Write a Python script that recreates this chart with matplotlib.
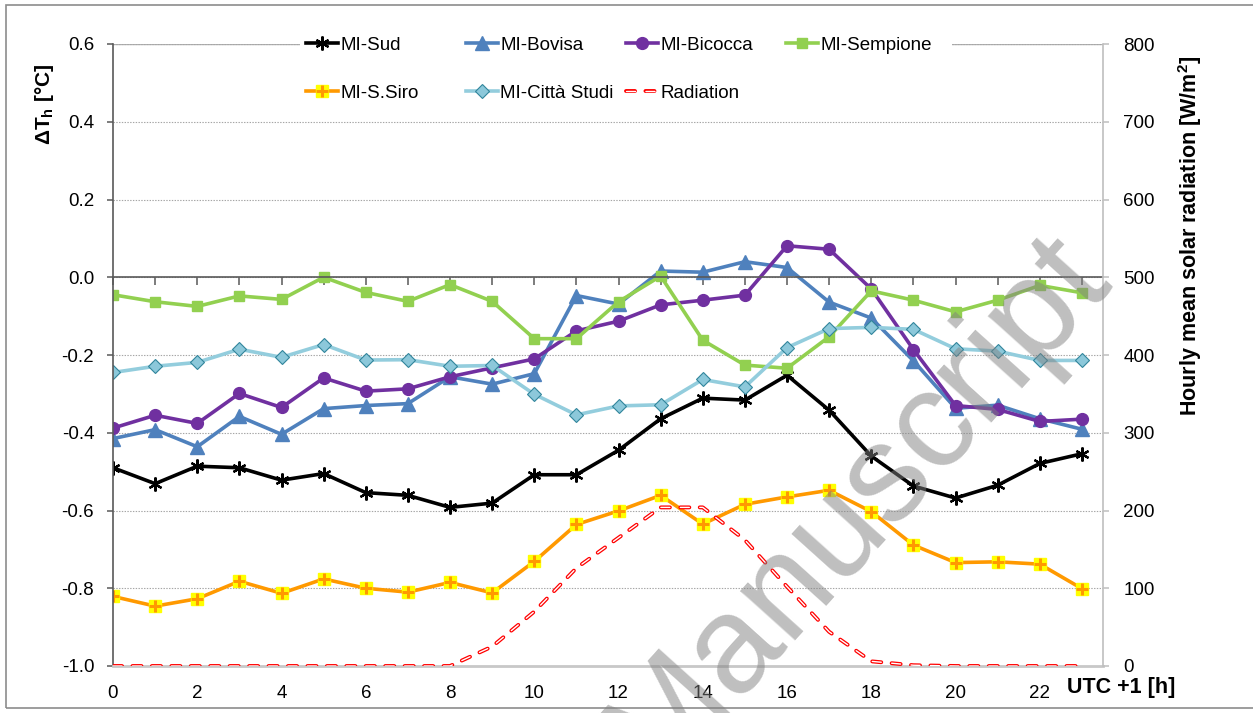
import numpy as np
import matplotlib.pyplot as plt
from matplotlib.patches import Rectangle

plt.rcParams['font.family'] = ['Liberation Sans', 'DejaVu Sans']
plt.rcParams['font.size'] = 13.5
plt.rcParams['lines.scale_dashes'] = False

# hourly data (UTC+1)
hours = list(range(24))
mi_sud = [-0.490, -0.531, -0.486, -0.490, -0.522, -0.505, -0.554, -0.561, -0.592, -0.581, -0.508, -0.508,
          -0.445, -0.364, -0.311, -0.316, -0.252, -0.342, -0.460, -0.537, -0.568, -0.535, -0.479, -0.454]
mi_bovisa = [-0.415, -0.392, -0.436, -0.358, -0.404, -0.338, -0.330, -0.325, -0.256, -0.275, -0.248, -0.047,
             -0.069, 0.016, 0.013, 0.040, 0.025, -0.064, -0.105, -0.215, -0.337, -0.329, -0.364, -0.391]
mi_bicocca = [-0.388, -0.355, -0.376, -0.299, -0.335, -0.259, -0.293, -0.287, -0.256, -0.233, -0.210, -0.138,
              -0.113, -0.071, -0.059, -0.046, 0.081, 0.072, -0.030, -0.186, -0.330, -0.340, -0.371, -0.365]
mi_sempione = [-0.045, -0.063, -0.075, -0.048, -0.057, 0.000, -0.039, -0.062, -0.019, -0.062, -0.158, -0.158,
               -0.063, 0.003, -0.162, -0.226, -0.234, -0.153, -0.035, -0.059, -0.089, -0.059, -0.021, -0.040]
mi_s_siro = [-0.821, -0.846, -0.827, -0.782, -0.813, -0.776, -0.800, -0.810, -0.785, -0.812, -0.731, -0.636,
             -0.601, -0.561, -0.635, -0.584, -0.565, -0.548, -0.603, -0.689, -0.734, -0.732, -0.738, -0.801]
mi_citta_studi = [-0.245, -0.229, -0.219, -0.185, -0.206, -0.173, -0.213, -0.212, -0.229, -0.227, -0.301, -0.354,
                  -0.331, -0.328, -0.263, -0.282, -0.181, -0.132, -0.129, -0.134, -0.184, -0.190, -0.214, -0.214]
radiation = [0, 0, 0, 0, 0, 0, 0, 0, 0, 25, 70, 126, 165, 204, 204, 162, 102, 44, 6, 1, 0, 0, 0, 0]

dt_ticks = np.round(np.linspace(-1.0, 0.6, 9), 1) + 0.0
rad_ticks = list(range(0, 801, 100))

W, H = 1253, 713
fig = plt.figure(figsize=(W / 100, H / 100), dpi=100)
ax = fig.add_axes([113 / W, 47 / H, 990 / W, 622 / H])

lw = 2.6
l_sud, = ax.plot(hours, mi_sud, color='black', lw=lw, marker=(6, 2, 0), ms=10, mew=1.6)
l_bov, = ax.plot(hours, mi_bovisa, color='#4F81BD', lw=lw, marker='^', ms=9.5)
l_bic, = ax.plot(hours, mi_bicocca, color='#7030A0', lw=lw, marker='o', ms=8.5)
l_sem, = ax.plot(hours, mi_sempione, color='#92D050', lw=lw, marker='s', ms=7.5)
l_sir, = ax.plot(hours, mi_s_siro, color='#FF9900', lw=lw, marker='s', ms=9, mfc='#FFFF00', mec='#FFFF00')
l_sir2, = ax.plot(hours, mi_s_siro, ls='none', marker='+', ms=9, mew=2.2, color='#FF9900')
l_cit, = ax.plot(hours, mi_citta_studi, color='#93CDDD', lw=lw, marker='D', ms=7.5,
                 mfc='#8CC8DA', mec='#31859C', mew=0.8)

ax.set_xlim(0, 23.5)
ax.set_ylim(-1.0, 0.6)
ax.set_yticks(dt_ticks)
ax.set_yticklabels(['%.1f' % v for v in dt_ticks])
ax.set_xticks(hours)
ax.set_xticklabels([str(h) if h % 2 == 0 else '' for h in hours])
ax.yaxis.grid(True, linestyle=(0, (1, 1)), color='#A6A6A6', lw=0.8)
ax.set_axisbelow(True)
ax.axhline(0.6, color='#B0B0B0', lw=1.0, zorder=0.5)

# x axis line sits at zero, labels stay at the bottom
ax.spines['top'].set_position(('data', 0))
ax.spines['top'].set_color('#595959')
ax.spines['top'].set_linewidth(1.2)
ax.spines['bottom'].set_color('#C8C8C8')
ax.spines['bottom'].set_linewidth(2)
ax.spines['left'].set_color('#595959')
ax.spines['left'].set_linewidth(1.2)
ax.spines['right'].set_visible(False)
ax.tick_params(axis='x', bottom=False, top=True, direction='in', length=6, width=1.1,
               color='#595959', labelbottom=True, labeltop=False, pad=14)
ax.tick_params(axis='y', direction='out', length=4.5, width=1.1, color='#595959', pad=9)

ax2 = ax.twinx()
ax2.set_position(ax.get_position())
red_out, = ax2.plot(hours, radiation, color='#FF0000', lw=2.8, ls=(0, (6.5, 7.5)), dash_capstyle='round')
red_in, = ax2.plot(hours, radiation, color='white', lw=1.0, ls=(0, (6.5, 7.5)), dash_capstyle='round')
ax2.set_ylim(0, 800)
ax2.set_yticks(rad_ticks)
for s in ['top', 'bottom', 'left']:
    ax2.spines[s].set_visible(False)
ax2.spines['right'].set_color('#BFBFBF')
ax2.spines['right'].set_linewidth(1.2)
ax2.tick_params(axis='y', direction='out', length=4.5, width=1.1, color='#BFBFBF', pad=10)

handles = [l_sud, (l_sir, l_sir2), l_bov, l_cit, l_bic, (red_out, red_in), l_sem]
labels = ['MI-Sud', 'MI-S.Siro', 'MI-Bovisa', 'MI-Città Studi', 'MI-Bicocca', 'Radiation', 'MI-Sempione']
leg = ax2.legend(handles, labels, ncol=4, loc='upper left', bbox_to_anchor=(300 / W, 1 - 31 / H),
                 bbox_transform=fig.transFigure, borderaxespad=0, frameon=True, facecolor='white',
                 edgecolor='none', framealpha=1, fancybox=False, handlelength=1.7, handletextpad=0.15,
                 columnspacing=0.64, labelspacing=1.66, borderpad=0.3, fontsize=13.5)
leg._legend_handle_box.mode = 'equal'  # equal width columns like excel

fig.text(45 / W, 1 - 104 / H, 'ΔT$_\\mathregular{h}$ [°C]', rotation=90, ha='center', va='center',
         fontweight='bold', fontsize=15)
fig.text(1190 / W, 1 - 236 / H, 'Hourly mean solar radiation [W/m$^\\mathregular{2}$]', rotation=90,
         ha='center', va='center', fontweight='bold', fontsize=15.5)
fig.text(1121 / W, 1 - 688 / H, 'UTC +1 [h]', ha='center', va='center', fontweight='bold', fontsize=15.5)

# watermark
fig.text(858 / W, 1 - 505 / H, 'Manuscript', rotation=48, fontsize=100, color='#808080', alpha=0.5,
         ha='center', va='center', rotation_mode='anchor', zorder=10)

fig.patches.append(Rectangle((6 / W, 5 / H), 1.2, 703 / H, transform=fig.transFigure, fill=False,
                             edgecolor='#8C8C8C', lw=1.2))

fig.savefig('out.png', dpi=100)
